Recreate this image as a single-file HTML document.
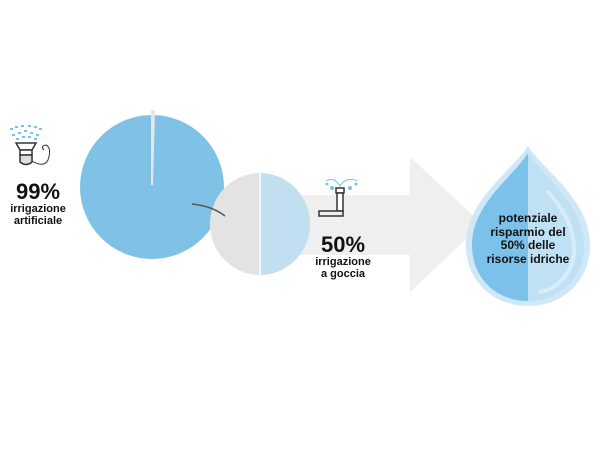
<!DOCTYPE html>
<html><head><meta charset="utf-8"><style>
html,body{margin:0;padding:0;background:#fff;width:600px;height:450px;overflow:hidden}
.t{position:absolute;font-family:"Liberation Sans",sans-serif;font-weight:bold;color:#111;text-align:center;line-height:1}
</style></head><body>
<svg width="600" height="450" style="position:absolute;left:0;top:0">
<polygon points="300,195 410,195 410,157 482,224 410,292 410,255 300,255" fill="#efefef"/>
<circle cx="152" cy="187" r="72" fill="#80c2e6"/>
<polygon points="151,110 155,110 153,185 151,185" fill="#e6e6e6"/>
<path d="M260,173 A50,51 0 0,0 260,275 Z" fill="#e3e3e3"/>
<path d="M260,173 A50,51 0 0,1 260,275 Z" fill="#c2dff2"/>
<line x1="260" y1="173" x2="260" y2="275" stroke="#fff" stroke-width="1.5"/>
<path d="M192,204 Q212,206 225,216" fill="none" stroke="#555" stroke-width="1.5"/>
<path d="M528,146 C545,172 590,200 590,245 C590,282 562,306 528,306 C494,306 466,282 466,245 C466,200 511,172 528,146 Z" fill="#cfe8f7"/>
<path d="M528,153 C543,177 584,204 584,245 C584,279 559,301 528,301 Z" fill="#c0e0f4"/>
<path d="M528,153 C513,177 472,204 472,245 C472,279 497,301 528,301 Z" fill="#7cc1e9"/>
<path d="M548,192 C566,212 574,230 574,250 C574,270 560,288 540,292" fill="none" stroke="#dff0fa" stroke-width="4" stroke-linecap="round" opacity="0.8"/>
<g stroke="#333" stroke-width="1.5" fill="#fff">
<path d="M16,143 L36,143 L32,150 L20,150 Z"/>
<rect x="20" y="150" width="12" height="5"/>
<path d="M20,155 L32,155 L32,162 Q26,167 20,162 Z" fill="#ddd"/>
<path d="M32,161 Q44,168 48,160 Q52,148 46,145 Q40,146 44,150" fill="none" stroke-width="1"/>
</g>
<g fill="#7cc1e9">
<rect x="10" y="128" width="3" height="2"/><rect x="15" y="126" width="3" height="2"/><rect x="21" y="125" width="3" height="2"/><rect x="28" y="125" width="3" height="2"/><rect x="34" y="126" width="3" height="2"/><rect x="39" y="128" width="3" height="2"/>
<rect x="12" y="134" width="3" height="2"/><rect x="18" y="132" width="3" height="2"/><rect x="24" y="130" width="3" height="2"/><rect x="30" y="132" width="3" height="2"/><rect x="36" y="134" width="3" height="2"/>
<rect x="16" y="138" width="3" height="2"/><rect x="22" y="136" width="3" height="2"/><rect x="28" y="136" width="3" height="2"/><rect x="34" y="138" width="3" height="2"/>
</g>
<g stroke="#333" stroke-width="1.5" fill="#fff">
<rect x="336" y="188" width="8" height="5"/>
<rect x="337" y="193" width="6" height="18"/>
<path d="M319,211 L343,211 L343,216 L319,216 Z" fill="#eee"/>
</g>
<path d="M326,181 Q334,176 340,186 Q346,176 358,181" fill="none" stroke="#7cc1e9" stroke-width="1"/>
<g fill="#7cc1e9"><circle cx="327" cy="184" r="1.5"/><circle cx="332" cy="188" r="2"/><circle cx="350" cy="188" r="2"/><circle cx="356" cy="184" r="1.5"/></g>
</svg>
<div class="t" style="left:0;top:181px;width:76px;font-size:22px">99%</div>
<div class="t" style="left:0;top:203px;width:76px;font-size:11px;line-height:12px">irrigazione<br>artificiale</div>
<div class="t" style="left:313px;top:234px;width:60px;font-size:22px">50%</div>
<div class="t" style="left:313px;top:256px;width:60px;font-size:11px;line-height:12px">irrigazione<br>a goccia</div>
<div class="t" style="left:458px;top:212px;width:140px;font-size:12px;line-height:13.5px">potenziale<br>risparmio del<br>50% delle<br>risorse idriche</div>
</body></html>
